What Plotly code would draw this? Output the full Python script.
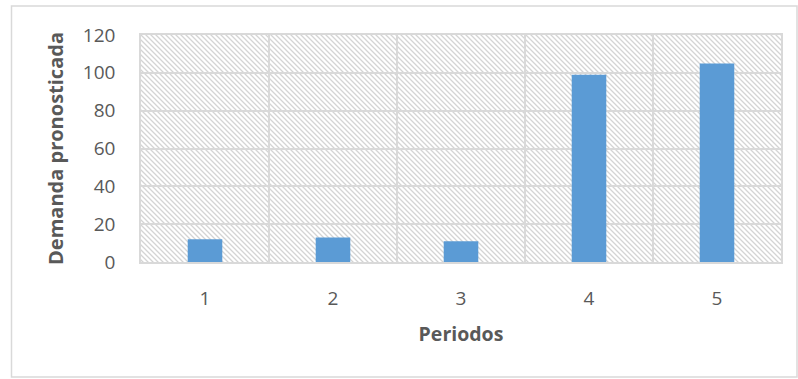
import base64
import plotly.graph_objects as go

periodos = ["1", "2", "3", "4", "5"]
demanda = [12, 13, 11, 99, 105]
y_ticks = [0, 20, 40, 60, 80, 100, 120]
y_max = 120

font_family = "Open Sans, Liberation Sans, sans-serif"
grid_color = "#d9d9d9"
text_color = "#595959"

W, H = 798, 379
ML, MR, MT, MB = 141, 17, 35, 117
PW, PH = W - ML - MR, H - MT - MB

# diagonal hatch texture for the plot-area background (pure styling)
hatch_svg = (
    f'<svg xmlns="http://www.w3.org/2000/svg" width="{PW}" height="{PH}">'
    '<defs><pattern id="h" width="5" height="5" patternUnits="userSpaceOnUse">'
    '<path d="M-1,-1 L6,6 M-1,4 L1,6 M4,-1 L6,1" stroke="#d4d4d4" stroke-width="1.3"/>'
    '</pattern></defs>'
    f'<rect width="{PW}" height="{PH}" fill="white"/>'
    f'<rect width="{PW}" height="{PH}" fill="url(#h)"/></svg>'
)
hatch_uri = "data:image/svg+xml;base64," + base64.b64encode(hatch_svg.encode()).decode()

fig = go.Figure()
fig.add_trace(go.Bar(
    x=periodos, y=demanda, width=0.27,
    marker=dict(color="#5B9BD5", line=dict(width=0)),
    showlegend=False,
))

fig.update_layout(
    width=W, height=H,
    margin=dict(l=ML, r=MR, t=MT, b=MB),
    plot_bgcolor="white", paper_bgcolor="white",
    font=dict(family=font_family, color=text_color, size=18),
    images=[dict(source=hatch_uri, xref="paper", yref="paper", x=0, y=1,
                 sizex=1, sizey=1, xanchor="left", yanchor="top",
                 sizing="stretch", layer="below")],
    shapes=[dict(type="rect", xref="paper", yref="paper",
                 x0=(11.5 - ML) / PW, x1=(797 - ML) / PW,
                 y0=(H - MB - 377) / PH, y1=(H - MB - 6) / PH,
                 line=dict(color=grid_color, width=1.5), fillcolor="rgba(0,0,0,0)",
                 layer="below")],
)

fig.update_xaxes(
    type="category", range=[-0.5, 4.5], tickson="boundaries",
    showgrid=True, gridcolor=grid_color, gridwidth=1.5,
    showline=True, linecolor=grid_color, linewidth=1.5, mirror=True,
    ticks="", ticklabelstandoff=18,
    tickfont=dict(size=19, color=text_color),
    title=dict(text="<b>Periodos</b>", font=dict(size=19.5, color=text_color), standoff=18),
)
fig.update_yaxes(
    range=[0, y_max], tickvals=y_ticks,
    showgrid=True, gridcolor=grid_color, gridwidth=1.5, zeroline=False,
    showline=True, linecolor=grid_color, linewidth=1.5, mirror=True,
    ticks="outside", ticklen=20, tickcolor="rgba(0,0,0,0)",
    tickfont=dict(size=19, color=text_color),
    title=dict(text="<b>Demanda pronosticada</b>", font=dict(size=20, color=text_color), standoff=14),
)

fig.write_html("out.html")
